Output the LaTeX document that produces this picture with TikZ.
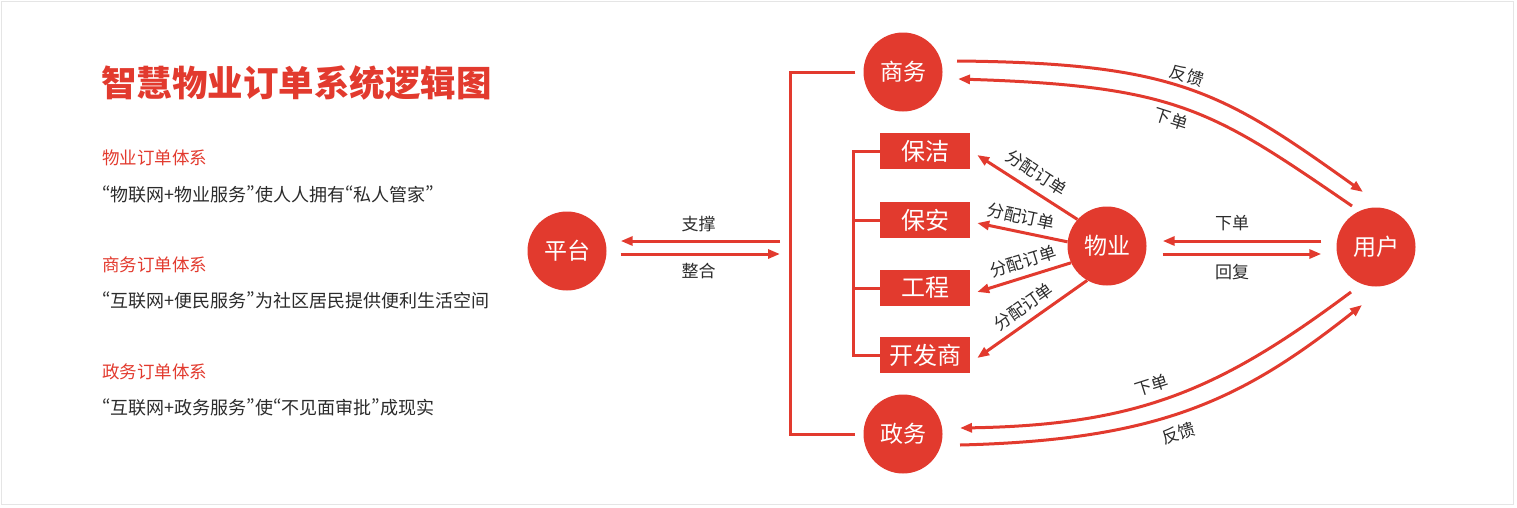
\documentclass[tikz,border=0pt]{standalone}
\usepackage{fontspec}
\setmainfont{Noto Sans CJK SC}
\usetikzlibrary{arrows.meta}
\definecolor{ordred}{HTML}{E23A2E}
\definecolor{ordtext}{HTML}{2B2B2B}

\begin{document}
\begin{tikzpicture}[x = 1pt, y = -1pt,
	every node/.style = {inner sep = 0pt},
	role/.style = {circle, fill = ordred, text = white, minimum size = 79pt, font = \fontsize{23}{23}\selectfont},
	dept/.style = {fill = ordred, text = white, minimum width = 90pt, minimum height = 36pt, font = \fontsize{24}{24}\selectfont},
	tag/.style = {text = ordtext, inner sep = 0pt, font = \fontsize{17}{17}\selectfont},
	flow/.style = {draw = ordred, line width = 3pt, -{Triangle[length = 12pt, width = 9pt]}},
	link/.style = {draw = ordred, line width = 3pt},
	heading/.style = {anchor = west, text = ordred, font = \fontsize{35.5}{35.5}\selectfont\bfseries},
	subhead/.style = {anchor = west, text = ordred, font = \fontsize{17.5}{17.5}\selectfont},
	blurb/.style = {anchor = west, text = ordtext, font = \fontsize{18}{18}\selectfont\addfontfeature{CharacterWidth = Proportional}}]
\useasboundingbox (0,0) rectangle (1517,507);
\draw[black!10, line width = 1pt] (1.5,1.5) rectangle (1513.5,504);

\node[heading] (title) at (101,83) {智慧物业订单系统逻辑图};
\node[subhead] (wuyehead) at (102,158) {物业订单体系};
\node[blurb] (wuyetext) at (102,194) {“物联网+物业服务”使人人拥有“私人管家”};
\node[subhead] (shangwuhead) at (102,265) {商务订单体系};
\node[blurb] (shangwutext) at (102,300) {“互联网+便民服务”为社区居民提供便利生活空间};
\node[subhead] (zhengwuhead) at (102,372) {政务订单体系};
\node[blurb] (zhengwutext) at (102,407) {“互联网+政务服务”使“不见面审批”成现实};

\node[role] (pingtai) at (567,251) {平台};
\node[role] (shangwu) at (903,72) {商务};
\node[role] (zhengwu) at (903,434) {政务};
\node[role] (wuye) at (1107,246) {物业};
\node[role] (yonghu) at (1376,247) {用户};
\node[dept] (baojie) at (925,151) {保洁};
\node[dept] (baoan) at (925,220) {保安};
\node[dept] (gongcheng) at (925,288) {工程};
\node[dept] (kaifa) at (925,355) {开发商};

\coordinate (spine) at (790,253);
\coordinate (rib) at (853,253);
\draw[link] ([xshift = -8pt]shangwu.west) -| (spine) |- ([xshift = -8pt]zhengwu.west);
\draw[link] (baojie.west) -| (rib) |- (kaifa.west);
\draw[link] (baoan.west) -- (baoan.west -| rib);
\draw[link] (gongcheng.west) -- (gongcheng.west -| rib);

\coordinate (prop) at (780,241);
\coordinate (merge) at (780,254);
\draw[flow, shorten > = 14pt] (prop) -- node[tag, above = 8pt, pos = 0.47] {支撑} (prop -| pingtai.east);
\draw[flow, shorten < = 14pt] (merge -| pingtai.east) -- node[tag, below = 8pt, pos = 0.53] {整合} (merge);

\draw[flow, shorten < = 15pt, shorten > = 16pt] ([yshift = 6pt]yonghu.west) -- node[tag, above = 8.5pt, pos = 0.55] {下单} ([yshift = 6pt]yonghu.west -| wuye.east);
\draw[flow, shorten < = 16pt, shorten > = 15pt] ([yshift = -7pt]yonghu.west -| wuye.east) -- node[tag, below = 8.5pt, pos = 0.45] {回复} ([yshift = -7pt]yonghu.west);

\draw[flow] (wuye.138) -- node[tag, sloped, above = 8pt] {分配订单} ([shift = {(7,4)}]baojie.east);
\draw[flow] (wuye.174) -- node[tag, sloped, above = 6pt, pos = 0.55] {分配订单} ([shift = {(7,3)}]baoan.east);
\draw[flow] (wuye.205) -- node[tag, sloped, above = 6pt, pos = 0.46] {分配订单} ([shift = {(7,4)}]gongcheng.east);
\draw[flow] (wuye.240) -- node[tag, sloped, above = 6pt] {分配订单} ([shift = {(7,3)}]kaifa.east);

\draw[flow] ([shift = {(54,-11)}]shangwu.center) .. controls +(220,2) and +(-140,-100) .. node[tag, sloped, above = 3pt, pos = 0.48] {反馈} ([shift = {(-13,-55)}]yonghu.center);
\draw[flow] ([shift = {(-24,-41)}]yonghu.center) .. controls +(-140,-96) and +(220,7) .. node[tag, sloped, below = 4.5pt, pos = 0.53] {下单} ([shift = {(55,7)}]shangwu.center);
\draw[flow] ([shift = {(-25,45)}]yonghu.center) .. controls +(-130,97) and +(180,-3) .. node[tag, sloped, above = 7.5pt, pos = 0.55] {下单} ([shift = {(57,-6)}]zhengwu.center);
\draw[flow] ([shift = {(57,11)}]zhengwu.center) .. controls +(200,-5) and +(-120,95) .. node[tag, sloped, below = 9.5pt, pos = 0.45] {反馈} ([shift = {(-14,58)}]yonghu.center);
\end{tikzpicture}
\end{document}
